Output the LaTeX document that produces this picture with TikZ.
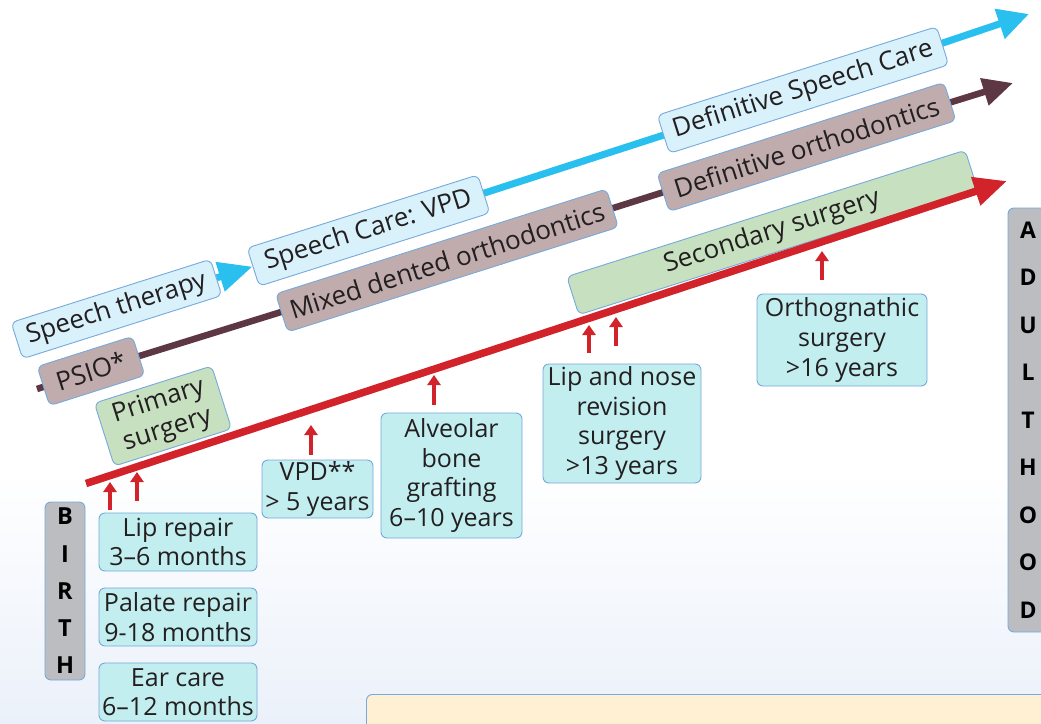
\documentclass[tikz,border=0pt]{standalone}
\usepackage{fontspec}
\setmainfont{Open Sans}
\usetikzlibrary{arrows.meta,calc}
\pgfdeclarelayer{bg}
\pgfdeclarelayer{lines}
\pgfdeclarelayer{front}
\pgfsetlayers{bg,lines,main,front}
\definecolor{cyanL}{HTML}{29BFEE}
\definecolor{maroonL}{HTML}{5D3744}
\definecolor{redL}{HTML}{D2232A}
\definecolor{mauveF}{HTML}{C0ACAC}
\definecolor{greenF}{HTML}{C6E0C0}
\definecolor{lblueF}{HTML}{D9F1FB}
\definecolor{cyanF}{HTML}{C3EEF0}
\definecolor{bordC}{HTML}{76A9DC}
\definecolor{grayF}{HTML}{BCBDC1}
\definecolor{bottomF}{HTML}{FFEFD3}
\definecolor{bgBlue}{HTML}{EBF1FA}
\definecolor{txtC}{HTML}{231F20}
\begin{document}
\begin{tikzpicture}[x=1pt,y=-1pt,
  rbox/.style={draw=bordC, line width=0.9pt, rounded corners=6pt, rotate=17.6,
    inner sep=0pt, align=center, text=txtC, font=\fontsize{26}{30}\selectfont},
  fbox/.style={draw=bordC, line width=0.9pt, fill=cyanF, rounded corners=6pt,
    inner sep=0pt, align=center, text=txtC, font=\fontsize{25}{29.5}\selectfont},
  gbox/.style={draw=bordC, line width=0.9pt, fill=grayF, rounded corners=6pt,
    inner sep=0pt, align=center, text=black},
  speechln/.style={draw=cyanL, line width=7pt},
  orthln/.style={draw=maroonL, line width=6.5pt},
  surgln/.style={draw=redL, line width=7.5pt},
  uparr/.style={draw=redL, line width=4.5pt, -{Triangle[length=10pt,width=13pt]}}
]
\useasboundingbox (0,0) rectangle (1041,723);
\clip (0,0) rectangle (1041,723);

% background
\begin{pgfonlayer}{bg}
  \fill[white] (0,0) rectangle (1041,723);
  \shade[top color=white, bottom color=bgBlue] (0,470) rectangle (1041,723);
\end{pgfonlayer}

% bottom box
\node[draw=bordC, line width=0.9pt, fill=bottomF, rounded corners=6pt,
  minimum width=700pt, minimum height=50pt, anchor=north west] (note) at (366,694) {};

% rotated boxes
\node[rbox, fill=lblueF, minimum width=209pt, minimum height=38pt] (st) at (116.5,309) {Speech therapy};
\node[rbox, fill=mauveF, minimum width=100pt, minimum height=41pt] (psio) at (91,371) {PSIO*};
\node[rbox, fill=greenF, minimum width=123pt, minimum height=66pt] (prim) at (163,416) {Primary\\surgery};
\node[rbox, fill=lblueF, minimum width=242pt, minimum height=40pt] (vpd) at (368.5,230.5) {Speech Care: VPD};
\node[rbox, fill=mauveF, minimum width=347pt, minimum height=40pt] (mixed) at (447,260.5) {Mixed dented orthodontics};
\node[rbox, fill=lblueF, minimum width=293pt, minimum height=40pt] (defsp) at (803,90) {Definitive Speech Care};
\node[rbox, fill=mauveF, minimum width=301pt, minimum height=40pt] (dortho) at (806.5,147) {Definitive orthodontics};
\node[rbox, fill=greenF, minimum width=418pt, minimum height=40pt] (sec) at (772,232.5) {Secondary surgery};

% flat boxes
\node[fbox, minimum width=158pt, minimum height=58pt] (lip) at (178,542) {Lip repair\\3–6 months};
\node[fbox, minimum width=158pt, minimum height=58pt] (palate) at (178,617) {Palate repair\\9-18 months};
\node[fbox, minimum width=158pt, minimum height=58pt] (ear) at (178,692) {Ear care\\6–12 months};
\node[fbox, minimum width=111pt, minimum height=58pt] (vpdb) at (317.5,489) {VPD**\\> 5 years};
\node[fbox, minimum width=141pt, minimum height=125pt] (alv) at (451.5,475.5) {Alveolar\\bone\\grafting\\6–10 years};
\node[fbox, minimum width=158pt, minimum height=119pt] (lipnose) at (622,423.5) {Lip and nose\\revision\\surgery\\>13 years};
\node[fbox, minimum width=170pt, minimum height=92pt] (ortho) at (842,340) {Orthognathic\\surgery\\>16 years};

% birth / adulthood
\node[gbox, minimum width=40pt, minimum height=178pt, font=\bfseries\fontsize{23.5}{37.25}\selectfont] (birth) at (65,591) {B\\I\\R\\T\\H};
\node[gbox, minimum width=40pt, minimum height=424pt, font=\bfseries\fontsize{23}{47.5}\selectfont] (adult) at (1028,420) {A\\D\\U\\L\\T\\H\\O\\O\\D};

% coordinates
\coordinate (cEnd) at (1029,14);
\coordinate (mStart) at (37,389);
\coordinate (mEnd) at (1013,83);
\coordinate (rStart) at (86,483.5);
\coordinate (rEnd) at (1007,181);

% track lines
\begin{pgfonlayer}{lines}
  \draw[speechln, -{Triangle[length=34pt,width=29pt]}] (st) -- (vpd);
  \draw[speechln, line join=round, -{Triangle[length=31pt,width=30pt]}] (vpd.center) -- (defsp.center) -- (cEnd);
  \draw[orthln, line join=round, -{Triangle[length=30pt,width=27pt]}] (mStart) -- (psio.center) -- (mixed.center) -- (dortho.center) -- (mEnd);
\end{pgfonlayer}

\begin{pgfonlayer}{front}
  \draw[surgln, -{Triangle[length=33pt,width=28pt]}] (rStart) -- (rEnd);
  \coordinate (t1) at (110,482);
  \coordinate (t2) at (137,472);
  \coordinate (t3) at (311,425);
  \coordinate (t4) at (434,375);
  \coordinate (t5) at (589,325);
  \coordinate (t6) at (616,317);
  \coordinate (t7) at (822,251);
  \draw[uparr] (110,510) -- (t1);
  \draw[uparr] (137,501) -- (t2);
  \draw[uparr] (vpdb.north -| t3) ++(0,-5) -- (t3);
  \draw[uparr] (alv.north -| t4) ++(0,-8) -- (t4);
  \draw[uparr] (lipnose.north -| t5) ++(0,-11) -- (t5);
  \draw[uparr] (616,346) -- (t6);
  \draw[uparr] (ortho.north -| t7) ++(0,-14) -- (t7);
\end{pgfonlayer}
\end{tikzpicture}
\end{document}
